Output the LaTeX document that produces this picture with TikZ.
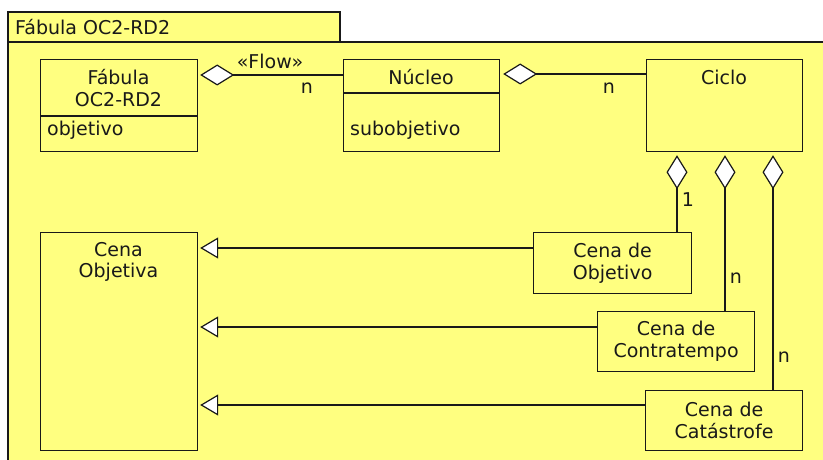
\documentclass[tikz,border=0pt]{standalone}
\usepackage{fontspec}
\setmainfont{DejaVu Sans}
\usetikzlibrary{arrows.meta,calc}
\definecolor{uml}{RGB}{255,255,128}
\definecolor{ink}{RGB}{25,25,25}
\begin{document}
\begin{tikzpicture}[x=1pt,y=-1pt,
  every node/.style={font=\fontsize{19}{21.7}\selectfont, text=ink},
  frame/.style={draw=ink, fill=uml, line width=1.2pt},
  box/.style={draw=ink, fill=uml, line width=1.2pt, anchor=north west, inner sep=0pt},
  txt/.style={align=center, inner sep=0pt},
  divider/.style={draw=ink, line width=1.2pt},
  agg/.style={draw=ink, line width=1.2pt, -{Diamond[fill=white, length=34pt, width=21pt]}},
  gen/.style={draw=ink, line width=1.2pt, -{Triangle[fill=white, length=18pt, width=21pt]}},
  lbl/.style={inner sep=0pt}
]
\useasboundingbox (0,0) rectangle (823,460);
\begin{scope}
  \clip (0,0) rectangle (823,460);
  \draw[frame] (8,42) rectangle (840,480);
\end{scope}
\draw[frame] (8,12) rectangle (340,42);
\node[lbl, anchor=west] (title) at (15,27) {Fábula OC2-RD2};

% boxes
\node[box, minimum width=157pt, minimum height=92pt] (fab) at (40,59) {};
\draw[divider] ([yshift=-57pt]fab.north west) -- ([yshift=-57pt]fab.north east);
\node[txt] (fabt) at (118.5,88) {Fábula\\OC2-RD2};
\node[txt, anchor=west] (fabat) at (47,130) {objetivo};

\node[box, minimum width=156pt, minimum height=92pt] (nuc) at (343,59) {};
\draw[divider] ([yshift=-34pt]nuc.north west) -- ([yshift=-34pt]nuc.north east);
\node[txt] (nuct) at (421,77) {Núcleo};
\node[txt, anchor=west] (nucat) at (350,130) {subobjetivo};

\node[box, minimum width=156pt, minimum height=92pt] (ciclo) at (646,59) {};
\node[txt] (ciclot) at (724,77) {Ciclo};

\node[box, minimum width=158pt, minimum height=61pt, align=center] (cobj) at (533,232) {Cena de\\Objetivo};
\node[box, minimum width=157pt, minimum height=60pt, align=center] (ccon) at (597,311) {Cena de\\Contratempo};
\node[box, minimum width=157pt, minimum height=60pt, align=center] (ccat) at (645,390) {Cena de\\Catástrofe};
\node[box, minimum width=157pt, minimum height=218pt] (cobjv) at (40,232) {};
\node[txt] (cobjvt) at (118.5,262) {Cena\\Objetiva};

% aggregations
\draw[agg] ([yshift=-16pt]nuc.north west) -- ($([yshift=-16pt]fab.north east)+(2,0)$);
\draw[agg] ([yshift=-15pt]ciclo.north west) -- ($([yshift=-15pt]nuc.north east)+(3,0)$);
\coordinate (a1) at ($(ciclo.south west)+(31,3)$);
\coordinate (a2) at ($(ciclo.south west)+(79,3)$);
\coordinate (a3) at ($(ciclo.south west)+(127,3)$);
\draw[agg] (cobj.north -| a1) -- (a1);
\draw[agg] (ccon.north -| a2) -- (a2);
\draw[agg] (ccat.north -| a3) -- (a3);

% generalizations
\coordinate (g1) at ($(cobj.north west)+(0,16)$);
\coordinate (g2) at ($(ccon.north west)+(0,16)$);
\coordinate (g3) at ($(ccat.north west)+(0,15)$);
\draw[gen] (g1) -- ($(g1 -| cobjv.east)+(2,0)$);
\draw[gen] (g2) -- ($(g2 -| cobjv.east)+(2,0)$);
\draw[gen] (g3) -- ($(g3 -| cobjv.east)+(2,0)$);

% labels
\node[lbl] (flow) at (270,61) {«Flow»};
\node[lbl] (n1) at (307,88) {n};
\node[lbl] (n2) at (609,88) {n};
\node[lbl] (one) at (688,200) {1};
\node[lbl] (n3) at (736,278) {n};
\node[lbl] (n4) at (784,357) {n};
\end{tikzpicture}
\end{document}
